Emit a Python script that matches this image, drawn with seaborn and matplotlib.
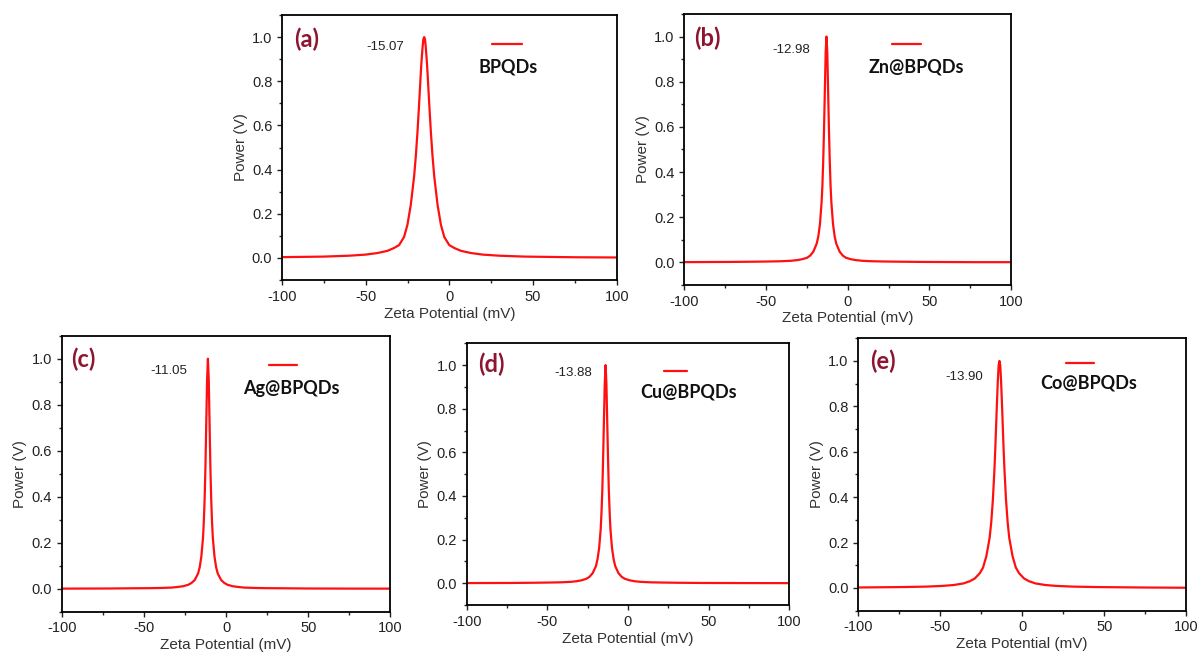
import numpy as np
import pandas as pd
import seaborn as sns
import matplotlib.pyplot as plt

# Zeta potential spectra (mV offset from each peak)
offsets = [-90, -60, -45, -35, -28, -22, -18, -15, -12, -10, -8, -6, -5, -4, -3, -2.5, -2, -1.5, -1, -0.5,
           0, 0.5, 1, 1.5, 2, 2.5, 3, 4, 5, 6, 8, 10, 12, 15, 18, 22, 28, 35, 45, 60, 90, 115]

panel_tags = ['(a)', '(b)', '(c)', '(d)', '(e)']
samples = ['BPQDs', 'Zn@BPQDs', 'Ag@BPQDs', 'Cu@BPQDs', 'Co@BPQDs']
peaks = [-15.07, -12.98, -11.05, -13.88, -13.90]

power_a = [0.003, 0.006, 0.010, 0.015, 0.022, 0.032, 0.045, 0.058, 0.095, 0.15, 0.24, 0.37, 0.46, 0.57, 0.70, 0.77, 0.84, 0.90, 0.95, 0.99,
           1.0, 0.99, 0.95, 0.90, 0.84, 0.77, 0.70, 0.57, 0.46, 0.37, 0.24, 0.15, 0.095, 0.058, 0.045, 0.032, 0.022, 0.015, 0.010, 0.006, 0.003, 0.002]
power_b = [0.001, 0.002, 0.003, 0.004, 0.005, 0.007, 0.010, 0.014, 0.020, 0.030, 0.048, 0.083, 0.115, 0.17, 0.265, 0.34, 0.45, 0.59, 0.76, 0.93,
           1.0, 0.93, 0.76, 0.59, 0.45, 0.34, 0.265, 0.17, 0.115, 0.083, 0.048, 0.030, 0.020, 0.014, 0.010, 0.007, 0.005, 0.004, 0.003, 0.002, 0.001, 0.001]
power_c = [0.0005, 0.001, 0.002, 0.0025, 0.0035, 0.005, 0.008, 0.011, 0.017, 0.025, 0.038, 0.066, 0.093, 0.14, 0.22, 0.29, 0.39, 0.53, 0.72, 0.91,
           1.0, 0.91, 0.72, 0.53, 0.39, 0.29, 0.22, 0.14, 0.093, 0.066, 0.038, 0.025, 0.017, 0.011, 0.008, 0.005, 0.0035, 0.0025, 0.002, 0.001, 0.0005, 0.0003]
power_d = [0.0005, 0.001, 0.002, 0.003, 0.004, 0.006, 0.009, 0.013, 0.020, 0.029, 0.046, 0.078, 0.11, 0.16, 0.25, 0.33, 0.43, 0.58, 0.75, 0.92,
           1.0, 0.92, 0.75, 0.58, 0.43, 0.33, 0.25, 0.16, 0.11, 0.078, 0.046, 0.029, 0.020, 0.013, 0.009, 0.006, 0.004, 0.003, 0.002, 0.001, 0.0005, 0.0003]
power_e = [0.002, 0.004, 0.006, 0.009, 0.013, 0.02, 0.03, 0.042, 0.065, 0.09, 0.14, 0.22, 0.29, 0.39, 0.53, 0.62, 0.72, 0.82, 0.91, 0.98,
           1.0, 0.98, 0.91, 0.82, 0.72, 0.62, 0.53, 0.39, 0.29, 0.22, 0.14, 0.09, 0.065, 0.042, 0.03, 0.02, 0.013, 0.009, 0.006, 0.004, 0.002, 0.001]
powers = [power_a, power_b, power_c, power_d, power_e]

sns.set_theme(style='ticks')
plt.rcParams['font.family'] = ['Liberation Sans', 'DejaVu Sans']
plt.rcParams['axes.unicode_minus'] = False

fig = plt.figure(figsize=(12, 6.53), dpi=100)

# axes boxes in figure fraction
boxes = [[0.235, 0.5712, 0.279, 0.4058],
         [0.5703, 0.5636, 0.2722, 0.415],
         [0.0514, 0.0632, 0.274, 0.4227],
         [0.3889, 0.0735, 0.2688, 0.4008],
         [0.7153, 0.0648, 0.2731, 0.4172]]
# text placement (axes fraction): tag xy, peak label xy, legend line x0,x1,y, legend text xy
tag_pos = [(0.035, 0.91), (0.03, 0.911), (0.028, 0.914), (0.035, 0.92), (0.036, 0.917)]
peak_pos = [(0.253, 0.88), (0.27, 0.867), (0.27, 0.873), (0.271, 0.885), (0.265, 0.859)]
leg_line = [(0.626, 0.716, 0.889), (0.635, 0.724, 0.889), (0.631, 0.717, 0.894), (0.613, 0.684, 0.894), (0.634, 0.72, 0.91)]
leg_text = [(0.586, 0.805), (0.563, 0.806), (0.552, 0.809), (0.539, 0.815), (0.555, 0.835)]

for i in range(5):
    ax = fig.add_axes(boxes[i])
    df = pd.DataFrame({'zeta': np.array(offsets) + peaks[i], 'power': powers[i]})
    sns.lineplot(data=df, x='zeta', y='power', ax=ax, color='#ff1010', lw=1.6)

    ax.set_xlim(-100, 100)
    ax.set_ylim(-0.1, 1.1)
    ax.set_xticks([-100, -50, 0, 50, 100])
    ax.set_xticks([-75, -25, 25, 75], minor=True)
    ax.set_yticks([0.0, 0.2, 0.4, 0.6, 0.8, 1.0])
    ax.set_yticks([-0.1, 0.1, 0.3, 0.5, 0.7, 0.9, 1.1], minor=True)
    ax.set_yticklabels(['0.0', '0.2', '0.4', '0.6', '0.8', '1.0'])
    ax.tick_params(which='major', direction='out', length=3.5, width=1, labelsize=10.5, colors='#222222')
    ax.tick_params(which='minor', direction='out', length=2, width=1)
    for s in ax.spines.values():
        s.set_linewidth(1.3)
        s.set_color('black')
    ax.set_xlabel('Zeta Potential (mV)', fontsize=11, color='#333333', labelpad=2)
    ax.set_ylabel('Power (V)', fontsize=11, color='#333333', labelpad=3)

    ax.text(tag_pos[i][0], tag_pos[i][1], panel_tags[i], transform=ax.transAxes, ha='left', va='center',
            fontsize=17, fontweight='bold', color='#8e1530', family=['Lato', 'DejaVu Sans'])
    ax.text(peak_pos[i][0], peak_pos[i][1], '%.2f' % peaks[i], transform=ax.transAxes, ha='left', va='center',
            fontsize=9.5, color='#222222')
    x0, x1, ly = leg_line[i]
    ax.plot([x0, x1], [ly, ly], transform=ax.transAxes, color='#ff1010', lw=1.6)
    ax.text(leg_text[i][0], leg_text[i][1], samples[i], transform=ax.transAxes, ha='left', va='center',
            fontsize=13, fontweight='bold', color='#111111', family=['Lato', 'DejaVu Sans'])

fig.savefig('out.png', dpi=100)
